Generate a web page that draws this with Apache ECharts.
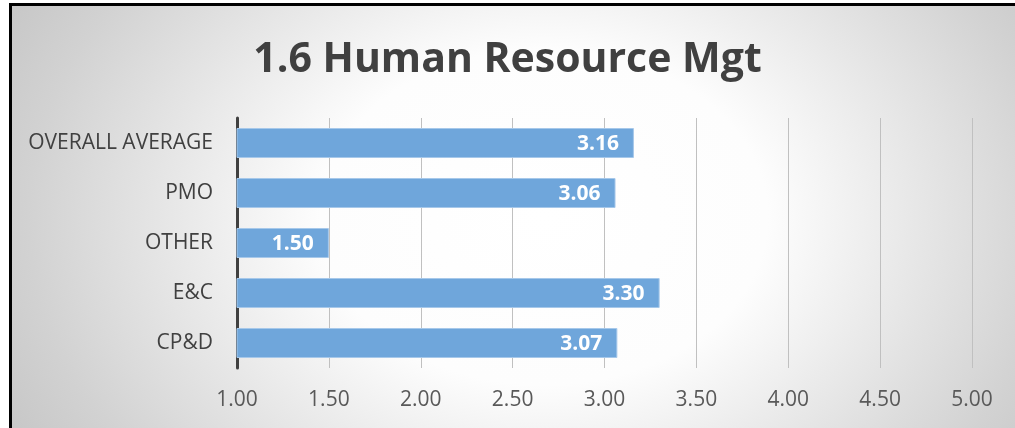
<!DOCTYPE html>
<html>
<head>
<meta charset="utf-8">
<script src="https://cdn.jsdelivr.net/npm/echarts@6/dist/echarts.min.js"></script>
<style>
  html, body { margin: 0; padding: 0; background: #ffffff; }
  #frame {
    position: absolute; left: 9px; top: 3px; width: 1006px; height: 425px;
    border-top: 3px solid #000; border-left: 3px solid #000; box-sizing: border-box;
    background: radial-gradient(ellipse 560px 420px at 53% 50%, #ffffff 0%, #fdfdfd 40%, #d2d2d2 92%, #c2c2c2 115%);
  }
  #main { position: absolute; left: 0; top: 0; width: 1015px; height: 428px; }
</style>
</head>
<body>
<div id="frame"></div>
<div id="main"></div>
<script>
// 数据（自上而下）
var titleText = '1.6 Human Resource Mgt';
var categories = ['OVERALL AVERAGE', 'PMO', 'OTHER', 'E&C', 'CP&D'];
var scores = [3.16, 3.06, 1.50, 3.30, 3.07];
var axisMin = 1;
var axisMax = 5;
var axisStep = 0.5;

var chart = echarts.init(document.getElementById('main'));

var option = {
    backgroundColor: 'transparent',
    animation: false,
    title: {
        text: titleText,
        left: 'center',
        top: 35,
        textStyle: {
            fontFamily: 'Open Sans',
            fontWeight: 'bold',
            fontSize: 41,
            color: '#404040'
        }
    },
    grid: {
        left: 237,
        right: 43,
        top: 118,
        bottom: 60,
        containLabel: false
    },
    xAxis: {
        type: 'value',
        min: axisMin,
        max: axisMax,
        interval: axisStep,
        axisLine: { show: false },
        axisTick: { show: false },
        splitLine: { show: true, lineStyle: { color: '#c0c0c0', width: 1 } },
        axisLabel: {
            margin: 22,
            fontFamily: 'Open Sans',
            fontSize: 21,
            color: '#595959',
            formatter: function (v) { return v.toFixed(2); }
        }
    },
    yAxis: {
        type: 'category',
        inverse: true,
        data: categories,
        axisLine: { show: true, lineStyle: { color: '#404040', width: 3 } },
        axisTick: { show: false },
        axisLabel: {
            margin: 24,
            fontFamily: 'Open Sans',
            fontSize: 21,
            color: '#404040'
        }
    },
    series: [{
        type: 'bar',
        data: scores,
        barWidth: '60%',
        itemStyle: {
            color: '#6fa6db',
            borderColor: '#a6c8ea',
            borderWidth: 1
        },
        label: {
            show: true,
            position: 'insideRight',
            offset: [-10, 1],
            fontFamily: 'Open Sans',
            fontWeight: 'bold',
            fontSize: 21,
            color: '#ffffff',
            formatter: function (p) { return p.value.toFixed(2); }
        }
    }]
};

chart.setOption(option);
</script>
</body>
</html>
